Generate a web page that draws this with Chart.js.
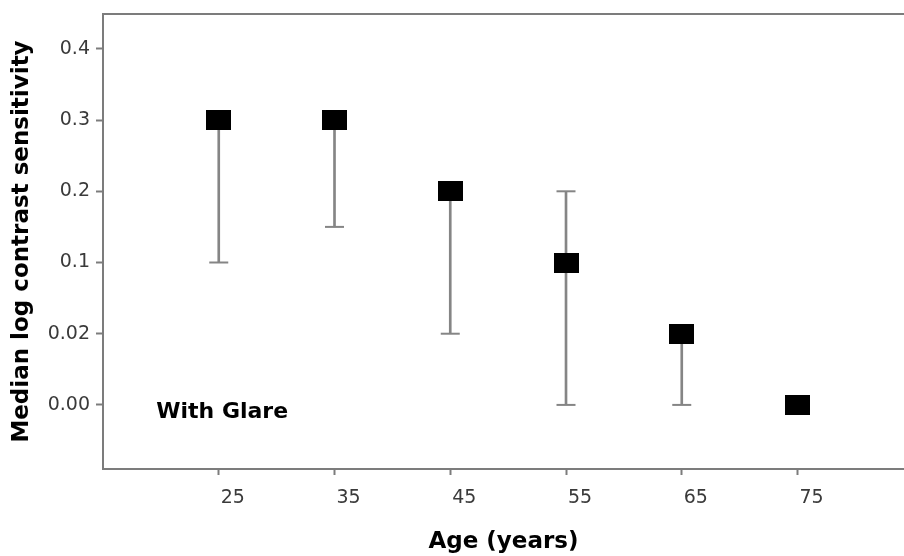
<!DOCTYPE html>
<html>
<head>
<meta charset="utf-8">
<script src="https://cdn.jsdelivr.net/npm/chart.js@4"></script>
<style>
  body { margin: 0; background: #fff; }
  canvas { display: block; }
</style>
</head>
<body>
<canvas id="glareChart" width="904" height="556"></canvas>
<script>
// age groups and median log contrast sensitivity with glare
const ages = [25, 35, 45, 55, 65, 75];
const medians = [0.3, 0.3, 0.2, 0.1, 0.02, 0.00];
const lowerBounds = [0.1, 0.15, 0.02, 0.00, 0.00, null];
const upperBounds = [0.3, 0.3, 0.2, 0.2, 0.02, null];

// y axis is not linear: each printed value gets an equal step
const yTickValues = [0.00, 0.02, 0.1, 0.2, 0.3, 0.4];
const yTickLabels = ['0.00', '0.02', '0.1', '0.2', '0.3', '0.4'];
const xTickValues = [25, 35, 45, 55, 65, 75];

const axisGrey = '#7c7c7c';
const barGrey = '#858585';
const labelGrey = '#3a3a3a';

// value -> position on the equal-step axis
function axisPos(v) {
  for (let i = 0; i < yTickValues.length - 1; i++) {
    const a = yTickValues[i], b = yTickValues[i + 1];
    if (v <= b) return i + (v - a) / (b - a);
  }
  return yTickValues.length - 1;
}

const withBounds = ages.map((a, i) => i).filter(i => lowerBounds[i] !== null);

const barData = withBounds.map(i => ({ x: ages[i], y: [axisPos(lowerBounds[i]), axisPos(upperBounds[i])] }));
const capData = withBounds.flatMap(i => [
  { x: ages[i], y: axisPos(lowerBounds[i]) },
  { x: ages[i], y: axisPos(upperBounds[i]) }
]);
const medianData = ages.map((a, i) => ({ x: a, y: axisPos(medians[i]) }));

// filled rectangle used as the median marker
const marker = document.createElement('canvas');
marker.width = 25;
marker.height = 20;
const mctx = marker.getContext('2d');
mctx.fillStyle = '#000';
mctx.fillRect(0, 0, 25, 20);

const noteLabel = {
  id: 'noteLabel',
  afterDatasetsDraw(chart) {
    const { ctx, scales } = chart;
    ctx.save();
    ctx.font = 'bold 22px "DejaVu Sans"';
    ctx.fillStyle = '#000';
    ctx.textAlign = 'left';
    ctx.textBaseline = 'middle';
    ctx.fillText('With Glare', scales.x.getPixelForValue(19.6), scales.y.getPixelForValue(-0.1));
    ctx.restore();
  }
};

const tickFont = { family: 'DejaVu Sans', size: 19 };
const titleFont = { family: 'DejaVu Sans', size: 23, weight: 'bold' };

// no side padding so the plot runs to the right edge
const noSidePadding = s => { s.paddingLeft = 0; s.paddingRight = 0; };

new Chart(document.getElementById('glareChart'), {
  type: 'scatter',
  data: {
    datasets: [
      {
        type: 'bar',
        data: barData,
        backgroundColor: barGrey,
        borderWidth: 0,
        barThickness: 2,
        grouped: false,
        order: 3
      },
      {
        data: capData,
        pointStyle: 'line',
        pointRadius: 9.5,
        borderColor: barGrey,
        borderWidth: 2,
        order: 2
      },
      {
        data: medianData,
        pointStyle: marker,
        pointRadius: 12,
        order: 1
      }
    ]
  },
  options: {
    responsive: false,
    animation: false,
    layout: { autoPadding: false, padding: { top: 14, right: 0, bottom: 0, left: 0 } },
    plugins: { legend: { display: false }, tooltip: { enabled: false } },
    scales: {
      x: {
        type: 'linear',
        position: 'bottom',
        min: 15,
        max: 84.2,
        offset: false,
        afterBuildTicks: s => { s.ticks = xTickValues.map(v => ({ value: v })); },
        afterFit: s => { s.height = 87; noSidePadding(s); },
        grid: { display: true, offset: false, drawOnChartArea: false, drawTicks: true, tickLength: 6, tickColor: axisGrey, tickWidth: 2 },
        border: { display: true, color: axisGrey, width: 2 },
        ticks: { color: labelGrey, font: tickFont, padding: 12, labelOffset: 14, maxRotation: 0 },
        title: { display: true, text: 'Age (years)', color: '#000', font: titleFont, padding: { top: 0, bottom: 0 } }
      },
      x2: {
        type: 'linear',
        position: 'top',
        min: 15,
        max: 84.2,
        display: true,
        afterFit: s => { s.height = 0; noSidePadding(s); },
        grid: { display: false, drawTicks: false },
        border: { display: true, color: axisGrey, width: 2 },
        ticks: { display: false }
      },
      y: {
        type: 'linear',
        min: -0.9,
        max: 5.49,
        afterBuildTicks: s => { s.ticks = yTickValues.map((v, i) => ({ value: i })); },
        afterFit: s => { s.width = 103; s.paddingTop = 0; s.paddingBottom = 0; },
        grid: { display: true, drawOnChartArea: false, drawTicks: true, tickLength: 7, tickColor: axisGrey, tickWidth: 2 },
        border: { display: true, color: axisGrey, width: 2 },
        ticks: { color: labelGrey, font: tickFont, padding: 6, callback: v => yTickLabels[v] },
        title: { display: true, text: 'Median log contrast sensitivity', color: '#000', font: titleFont, padding: { top: 8, bottom: 0 } }
      }
    }
  },
  plugins: [noteLabel]
});
</script>
</body>
</html>
